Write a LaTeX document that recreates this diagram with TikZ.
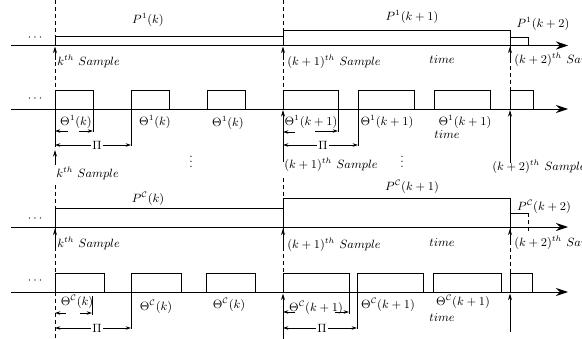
\documentclass[tikz,border=0pt]{standalone}
\usetikzlibrary{arrows.meta}
\begin{document}
\begin{tikzpicture}[x=0.75pt,y=-0.75pt,
  lbl/.style={inner sep=0pt,font=\fontsize{9}{10}\selectfont},
  axis/.style={line width=0.7pt,-{Stealth[length=9pt,width=6pt,inset=3pt]}},
  box/.style={line width=0.6pt},
  dsh/.style={dash pattern=on 3pt off 2.2pt,line width=0.5pt},
  samp/.style={line width=0.7pt,-{Stealth[length=5pt,width=3pt]}},
  dimr/.style={line width=0.5pt,-{Stealth[length=4pt,width=2.6pt]}},
  dimb/.style={line width=0.5pt,{Stealth[length=4pt,width=2.6pt]}-{Stealth[length=4pt,width=2.6pt]}},
  tick/.style={line width=0.5pt},
]
\useasboundingbox (0,0) rectangle (582,339);
% dashed sample lines
\draw[dsh] (55,0) -- (55,90);
\draw[dsh] (283,0) -- (283,90);
\draw[dsh] (510,45) -- (510,90);
\draw[dsh] (55,185) -- (55,273);
\draw[dsh] (283,178) -- (283,273);
\draw[dsh] (510,227) -- (510,273);
\draw[dsh] (55,292) -- (55,339);
% axes
\foreach \y in {45.5,109,227,292} \draw[axis] (11,\y) -- (568,\y);
% row 1
\draw[box] (55,45.5) |- (283,36);
\draw[box] (283,45.5) |- (510,30) -- (510,45.5);
\draw[box] (510,37) -| (528,45.5);
% row 2
\foreach \a/\b in {55/93,131/169,207/245,283/338,358/414,434/490,510/533}
  \draw[box] (\a,109) |- (\b,90) -- (\b,109);
% row 3
\draw[box] (55,227) |- (283,208);
\draw[box] (283,227) |- (510,198) -- (510,227);
\draw[box] (510,213) -- (528,213);
\draw[dsh] (528,213) -- (528,231);
% row 4
\foreach \a/\b in {55/104,131/181,206/255,283/349,357/423,433/501,510/532}
  \draw[box] (\a,292) |- (\b,273) -- (\b,292);
% sample arrows
\draw[samp] (55,60) -- (55,46.5);
\draw[samp] (283,60) -- (283,46.5);
\draw[samp] (510,62) -- (510,46.5);
\draw[tick] (55,109) -- (55,147);
\draw[samp] (55,165) -- (55,150);
\draw[samp] (283,162) -- (283,110);
\draw[samp] (510,163) -- (510,110);
\draw[samp] (55,248) -- (55,228.5);
\draw[samp] (283,248) -- (283,228.5);
\draw[samp] (510,242) -- (510,228.5);
\draw[samp] (283,339) -- (283,293.5);
\draw[samp] (510,332) -- (510,293.5);
% Theta dims row 2
\draw[dimr] (68,131) -- (55,131);
\draw[dimr] (79,131) -- (93,131);
\draw[tick] (93,109) -- (93,132);
\draw[dimr] (295,132) -- (283,132);
\draw[dimr] (315,131) -- (338,131);
\draw[tick] (338,109) -- (338,132);
\draw[tick] (131,109) -- (131,146);
\draw[tick] (358,109) -- (358,146);
\draw[dimb] (55,145) -- (131,145);
\draw[dimb] (283,145) -- (358,145);
\node[lbl,fill=white,inner sep=1pt] (pi1) at (97,145) {$\Pi$};
\node[lbl,fill=white,inner sep=1pt] (pi2) at (323,145) {$\Pi$};
% Theta dims row 4
\draw[dimr] (66,313) -- (55,313);
\draw[dimr] (80,313) -- (92,313);
\draw[tick] (92,296) -- (92,315);
\draw[dimr] (295,312) -- (283,312);
\draw[dimr] (335,312) -- (349,312);
\draw[tick] (349,292) -- (349,314);
\draw[tick] (131,292) -- (131,329);
\draw[tick] (357,292) -- (357,329);
\draw[dimb] (55,328) -- (131,328);
\draw[dimb] (283,328) -- (357,328);
\node[lbl,fill=white,inner sep=1pt] (pi3) at (97,328) {$\Pi$};
\node[lbl,fill=white,inner sep=1pt] (pi4) at (322,328) {$\Pi$};
% dots
\node[lbl] (d1) at (35,38) {$\cdots$};
\node[lbl] (d2) at (35,99) {$\cdots$};
\node[lbl] (d3) at (35,219) {$\cdots$};
\node[lbl] (d4) at (35,281) {$\cdots$};
\node[lbl] (v1) at (191,158) {$\vdots$};
\node[lbl] (v2) at (402,158) {$\vdots$};
% P labels
\node[lbl] (p1a) at (148,20) {$P^1(k)$};
\node[lbl] (p1b) at (412,17) {$P^1(k+1)$};
\node[lbl] (p1c) at (543,24) {$P^1(k+2)$};
\node[lbl] (pca) at (148,199) {$P^{\mathcal{C}}(k)$};
\node[lbl] (pcb) at (412,187) {$P^{\mathcal{C}}(k+1)$};
\node[lbl] (pcc) at (544,207) {$P^{\mathcal{C}}(k+2)$};
% Theta labels
\node[lbl] (t1a) at (76,122) {$\Theta^1(k)$};
\node[lbl] (t1b) at (155,122) {$\Theta^1(k)$};
\node[lbl] (t1c) at (228,123) {$\Theta^1(k)$};
\node[lbl] (t1d) at (311,122) {$\Theta^1(k+1)$};
\node[lbl] (t1e) at (387,122) {$\Theta^1(k+1)$};
\node[lbl] (t1f) at (465,122) {$\Theta^1(k+1)$};
\node[lbl] (tm2) at (447,135) {$time$};
\node[lbl] (tca) at (77,302) {$\Theta^{\mathcal{C}}(k)$};
\node[lbl] (tcb) at (156,307) {$\Theta^{\mathcal{C}}(k)$};
\node[lbl] (tcc) at (229,305) {$\Theta^{\mathcal{C}}(k)$};
\node[lbl] (tcd) at (316,308) {$\Theta^{\mathcal{C}}(k+1)$};
\node[lbl] (tce) at (388,305) {$\Theta^{\mathcal{C}}(k+1)$};
\node[lbl] (tcf) at (463,302) {$\Theta^{\mathcal{C}}(k+1)$};
\node[lbl] (tm4) at (442,318) {$time$};
% sample labels
\node[lbl,anchor=west] (s1a) at (57,61) {$k^{th}\ Sample$};
\node[lbl,anchor=west] (s1b) at (287,62) {$(k+1)^{th}\ Sample$};
\node[lbl] (tm1) at (442,60) {$time$};
\node[lbl,anchor=west] (s1c) at (514,60) {$(k+2)^{th}\ Sample$};
\node[lbl,anchor=west] (s2a) at (56,173) {$k^{th}\ Sample$};
\node[lbl,anchor=west] (s2b) at (284,165) {$(k+1)^{th}\ Sample$};
\node[lbl,anchor=west] (s2c) at (492,167) {$(k+2)^{th}\ Sample$};
\node[lbl,anchor=west] (s3a) at (57,243) {$k^{th}\ Sample$};
\node[lbl,anchor=west] (s3b) at (287,245) {$(k+1)^{th}\ Sample$};
\node[lbl] (tm3) at (442,243) {$time$};
\node[lbl,anchor=west] (s3c) at (514,243) {$(k+2)^{th}\ Sample$};
\end{tikzpicture}
\end{document}
